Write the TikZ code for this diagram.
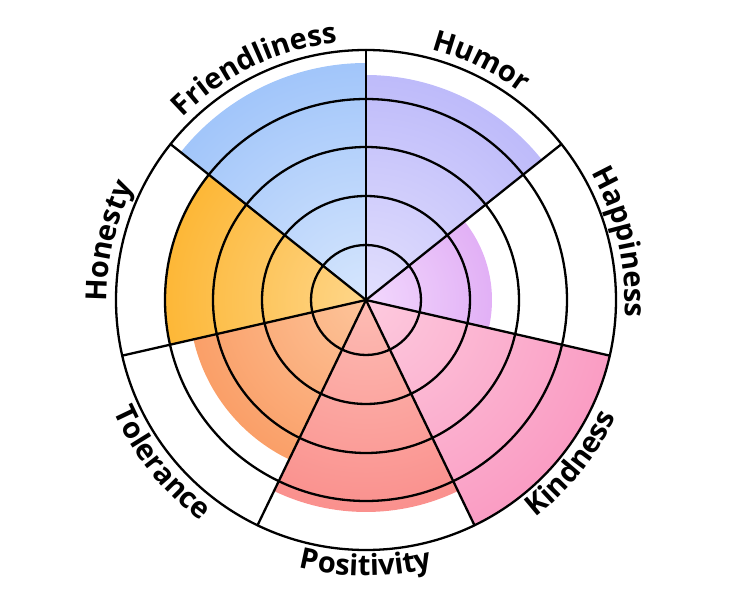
\documentclass[tikz,border=0pt]{standalone}
\usepackage{fontspec}
\newfontfamily\wheelfamily{Open Sans}
\usetikzlibrary{decorations.text}

\definecolor{humor-in}{HTML}{E2DFFD}
\definecolor{humor-out}{HTML}{A8A5F8}
\definecolor{friend-in}{HTML}{D6E6FD}
\definecolor{friend-out}{HTML}{82B2F8}
\definecolor{honesty-in}{HTML}{FED68A}
\definecolor{honesty-out}{HTML}{FCA505}
\definecolor{toler-in}{HTML}{FDC49A}
\definecolor{toler-out}{HTML}{F8894A}
\definecolor{posit-in}{HTML}{FDBCB4}
\definecolor{posit-out}{HTML}{F87676}
\definecolor{kind-in}{HTML}{FDCADE}
\definecolor{kind-out}{HTML}{F881B3}
\definecolor{happy-in}{HTML}{F2D8FD}
\definecolor{happy-out}{HTML}{D898F1}

\newcommand{\wheelfont}{\wheelfamily\bfseries\fontsize{29}{31}\selectfont}

\begin{document}
\begin{tikzpicture}[x=1pt, y=1pt,
    ring/.style={draw=black, line width=2.3pt},
    spoke/.style={draw=black, line width=2.3pt, line cap=round}]
    \useasboundingbox (-366,-300) rectangle (366,300);
    \coordinate (hub) at (0,0);

    % shaded wedges, one per trait
    \foreach \i/\val/\col in {0/225/humor, 1/237/friend, 2/201/honesty, 3/177/toler, 4/212/posit, 5/250/kind, 6/126/happy} {
        \pgfmathsetmacro{\a}{38.5714+\i*51.4286}
        \pgfmathsetmacro{\b}{\a+51.4286}
        \begin{scope}
            \clip (hub) -- (\a:\val) arc[start angle=\a, end angle=\b, radius=\val] -- cycle;
            \shade[inner color=\col-in, outer color=\col-out] (hub) circle[radius=1.6*\val];
        \end{scope}
    }

    % rings and spokes
    \foreach \r in {55,104,153,201,250}
        \draw[ring] (hub) circle[radius=\r];
    \foreach \i in {0,...,6}
        \draw[spoke] (hub) -- (90+\i*51.4286:250);

    % labels along the rim
    \foreach \i/\name in {0/Humor, 1/Friendliness, 2/Honesty, 3/Tolerance, 4/Positivity, 5/Kindness, 6/Happiness} {
        \pgfmathsetmacro{\m}{64.2857+\i*51.4286}
        \pgfmathtruncatemacro{\isup}{sin(\m) > 0}
        \ifnum\isup=1
            \path[decorate, decoration={text along path, text align=center,
                text/.expanded={|\noexpand\wheelfont|\name}}]
                (\m+25:259) arc[start angle=\m+25, end angle=\m-25, radius=259];
        \else
            \path[decorate, decoration={text along path, text align=center,
                text/.expanded={|\noexpand\wheelfont|\name}}]
                (\m-25:276) arc[start angle=\m-25, end angle=\m+25, radius=276];
        \fi
    }
\end{tikzpicture}
\end{document}
